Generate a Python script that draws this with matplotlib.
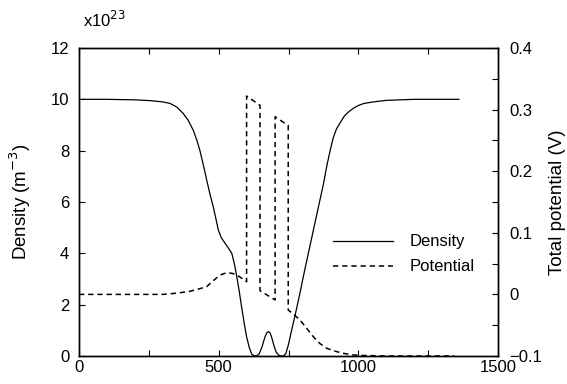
import matplotlib
matplotlib.use("Agg")
import matplotlib.pyplot as plt
from matplotlib.ticker import MultipleLocator

plt.rcParams["font.family"] = ["Liberation Sans", "DejaVu Sans"]
plt.rcParams["font.size"] = 12

# density (units of 1e23 m^-3)
dens_x = [0, 100, 200, 254, 300, 326, 350, 373, 390, 409, 422, 433, 445, 457, 469,
          481, 490, 499, 510, 523, 535, 547, 556, 565, 574, 582, 591, 600, 609,
          618, 626, 635, 645, 655, 665, 672, 678, 684, 690, 698, 706, 714, 722,
          731, 740, 750, 760, 767, 780, 792, 803, 815, 827, 839, 851, 863, 875,
          887, 899, 910, 922, 934, 950, 966, 982, 1000, 1020, 1054, 1100, 1200, 1300, 1360]
dens_y = [10.0, 10.0, 9.98, 9.95, 9.9, 9.84, 9.7, 9.45, 9.2, 8.8, 8.4, 8.0, 7.45, 6.86, 6.3,
          5.8, 5.35, 4.9, 4.6, 4.39, 4.2, 4.0, 3.6, 3.09, 2.5, 1.92, 1.3, 0.75, 0.35,
          0.08, 0.01, 0.0, 0.08, 0.35, 0.72, 0.9, 0.95, 0.9, 0.72, 0.4, 0.15, 0.04, 0.0,
          0.0, 0.08, 0.45, 0.95, 1.27, 1.9, 2.5, 3.09, 3.7, 4.3, 4.9, 5.5, 6.1, 6.7,
          7.4, 8.0, 8.5, 8.85, 9.07, 9.35, 9.52, 9.65, 9.76, 9.84, 9.9, 9.96, 10.0, 10.0, 10.0]

# total potential (V)
pot_x = [0, 200, 300, 350, 397, 430, 457, 480, 505, 520, 535, 550, 565, 580, 600,
         600, 648, 648, 702, 702, 749, 749, 770, 791, 815, 839, 863, 887, 915,
         946, 975, 1005, 1100, 1200, 1345]
pot_y = [0.0, 0.0, 0.0, 0.002, 0.005, 0.009, 0.0125, 0.022, 0.0315, 0.034, 0.035, 0.034, 0.0315, 0.027, 0.0206,
         0.322, 0.307, 0.006, -0.009, 0.2885, 0.274, -0.0253, -0.033, -0.0416, -0.055, -0.0687, -0.08, -0.0875, -0.092,
         -0.0956, -0.098, -0.099, -0.1, -0.1, -0.1]

pot_ticks = [-0.1, 0, 0.1, 0.2, 0.3, 0.4]
pot_labels = ["\u22120.1", "0", "0.1", "0.2", "0.3", "0.4"]

fig = plt.figure(figsize=(5.67, 3.84), dpi=100)
ax = fig.add_axes([79 / 567, 1 - 356 / 384, 419 / 567, 308 / 384])
ax2 = ax.twinx()

l1, = ax.plot(dens_x, dens_y, color="black", lw=0.9)
l2, = ax2.plot(pot_x, pot_y, color="black", lw=1.1, linestyle=(0, (3.5, 2.5)))

ax.set_xlim(0, 1500)
ax.set_ylim(0, 12)
ax2.set_ylim(-0.1, 0.4)
ax.xaxis.set_major_locator(MultipleLocator(500))
ax.xaxis.set_minor_locator(MultipleLocator(250))
ax.yaxis.set_major_locator(MultipleLocator(2))
ax2.set_yticks(pot_ticks)
ax2.set_yticklabels(pot_labels)
ax2.yaxis.set_minor_locator(MultipleLocator(0.05))

ax.tick_params(axis="both", which="both", direction="in", top=True, length=4, width=0.8, pad=7)
ax.tick_params(axis="x", which="major", pad=3)
ax2.tick_params(axis="y", which="both", direction="in", length=4, width=0.8, pad=8)
for a in (ax, ax2):
    for s in a.spines.values():
        s.set_linewidth(1.0)

ax.set_ylabel("Density (m$^{-3}$)", fontsize=13.5, labelpad=13)
ax2.set_ylabel("Total potential (V)", fontsize=13.5, labelpad=5)
fig.text(83 / 567, 1 - 27 / 384, "x10$^{23}$", fontsize=12, ha="left", va="baseline")

ax.legend([l1, l2], ["Density", "Potential"], frameon=False, loc="center left",
          bbox_to_anchor=(0.57, 0.33), handlelength=3.6, handletextpad=1.0,
          labelspacing=0.6, fontsize=12)

fig.savefig("out.png", dpi=100)
